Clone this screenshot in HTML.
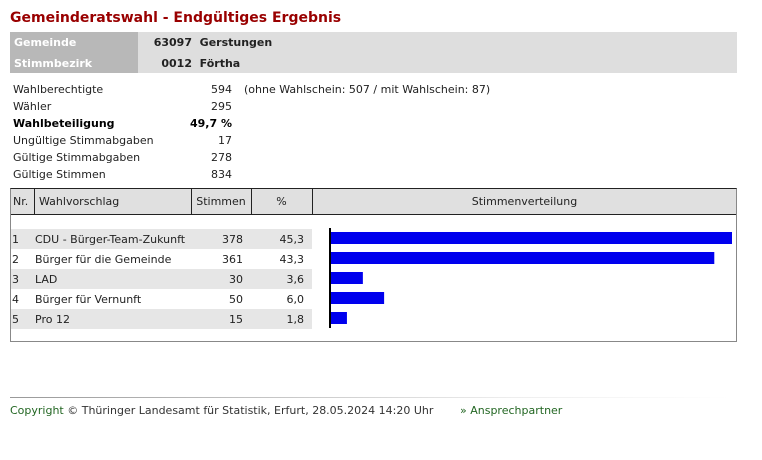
<!DOCTYPE html>
<html><head><meta charset="utf-8"><style>
body{margin:0;width:762px;height:460px;background:#fff;font-family:"DejaVu Sans","Liberation Sans",sans-serif;font-size:11px;color:#222;position:relative;overflow:hidden}
.a{position:absolute;white-space:nowrap}
.r{text-align:right}
</style></head><body>
<div class="a" style="left:10px;top:10px;font-size:14px;font-weight:bold;color:#990000;">Gemeinderatswahl - Endgültiges Ergebnis</div>
<div class="a" style="left:10px;top:32px;width:727px;height:41px;background:#dedede"></div>
<div class="a" style="left:10px;top:32px;width:128px;height:41px;background:#b8b8b8"></div>
<div class="a" style="left:14px;top:36px;color:#fff;font-weight:bold">Gemeinde</div>
<div class="a" style="left:14px;top:57px;color:#fff;font-weight:bold">Stimmbezirk</div>
<div class="a r" style="left:140px;width:132px;top:36px;font-weight:bold;text-align:left"><span style="display:inline-block;width:52px;text-align:right">63097</span>&nbsp; Gerstungen</div>
<div class="a" style="left:140px;top:57px;font-weight:bold"><span style="display:inline-block;width:52px;text-align:right">0012</span>&nbsp; Förtha</div>
<div id="stats"></div>
<div class="a" style="left:244px;top:83px">(ohne Wahlschein: 507 / mit Wahlschein: 87)</div>

<div class="a" style="left:10px;top:188px;width:725px;height:152px;border:1px solid #888;border-top:1px solid #222"></div>
<div class="a" style="left:11px;top:189px;width:725px;height:25px;background:#e0e0e0;border-bottom:1px solid #222"></div>
<div id="hdr"></div>
<svg class="a" style="left:0;top:0" width="762" height="460" id="chart"></svg>

<div class="a" style="left:10px;top:397px;width:720px;height:1px;background:linear-gradient(to right,#999,#eee 70%,#fff)"></div>
<div class="a" style="left:10px;top:404px;color:#333"><span style="color:#226622">Copyright</span> © Thüringer Landesamt für Statistik, Erfurt, 28.05.2024 14:20 Uhr</div>
<div class="a" style="left:460px;top:404px;color:#226622">» Ansprechpartner</div>

<script>
const statLabels=["Wahlberechtigte","Wähler","Wahlbeteiligung","Ungültige Stimmabgaben","Gültige Stimmabgaben","Gültige Stimmen"];
const statValues=["594","295","49,7 %","17","278","834"];
const nrs=["1","2","3","4","5"];
const parties=["CDU - Bürger-Team-Zukunft","Bürger für die Gemeinde","LAD","Bürger für Vernunft","Pro 12"];
const votes=[378,361,30,50,15];
const pcts=[45.3,43.3,3.6,6.0,1.8];

const st=document.getElementById('stats');
statLabels.forEach((l,i)=>{
  const y=83+i*17;
  const a=document.createElement('div');a.className='a';a.style.cssText=`left:13px;top:${y}px;`+(i==2?'font-weight:bold;color:#000':'');a.textContent=l;
  
  
  st.appendChild(a);
  const b=document.createElement('div');b.className='a r';b.style.cssText=`left:150px;width:82px;top:${y}px;`+(i==2?'font-weight:bold;color:#000':'');b.textContent=statValues[i];
  
  
  st.appendChild(b);
});
const hdr=document.getElementById('hdr');
[[34],[191],[251],[312]].forEach(([x])=>{
  const d=document.createElement('div');d.className='a';d.style.cssText=`left:${x}px;top:189px;width:1px;height:25px;background:#222`;
  
  
  hdr.appendChild(d);
});
[["Nr.",13,"left",null],["Wahlvorschlag",39,"left",null],["Stimmen",191,"center",60],["%",251,"center",61],["Stimmenverteilung",312,"center",425]].forEach(([t,x,al,w])=>{
  const d=document.createElement('div');d.className='a';d.style.cssText=`left:${x}px;top:195px;text-align:${al};`+(w?`width:${w}px;`:'');d.textContent=t;
  
  
  hdr.appendChild(d);
});
const svg=document.getElementById('chart');const NS='http://www.w3.org/2000/svg';
const x0=331,scale=401/45.3;
const xs=v=>x0+v*scale;
const rowY=i=>229+i*20;
parties.forEach((p,i)=>{
  const y=rowY(i);
  if(i%2==0){const bg=document.createElementNS(NS,'rect');bg.setAttribute('x',11);bg.setAttribute('y',y);bg.setAttribute('width',301);bg.setAttribute('height',20);bg.setAttribute('fill','#e6e6e6');
  
  
  svg.appendChild(bg);}
  const cells=[[nrs[i],12,'start'],[p,35,'start'],[String(votes[i]),243,'end'],[pcts[i].toFixed(1).replace('.',','),304,'end']];
  cells.forEach(([t,x,a])=>{const tx=document.createElementNS(NS,'text');tx.setAttribute('x',x);tx.setAttribute('y',y+14);tx.setAttribute('text-anchor',a);tx.setAttribute('font-size','11');tx.setAttribute('fill','#222');tx.textContent=t;
    
    
    svg.appendChild(tx);});
  const r=document.createElementNS(NS,'rect');r.setAttribute('x',x0);r.setAttribute('y',y+3);r.setAttribute('width',xs(pcts[i])-x0);r.setAttribute('height',12);r.setAttribute('fill','#0000ee');
  
  
  svg.appendChild(r);
});
const ax=document.createElementNS(NS,'rect');ax.setAttribute('x',329);ax.setAttribute('y',228);ax.setAttribute('width',2);ax.setAttribute('height',100);ax.setAttribute('fill','#000');


svg.appendChild(ax);
</script>
</body></html>
